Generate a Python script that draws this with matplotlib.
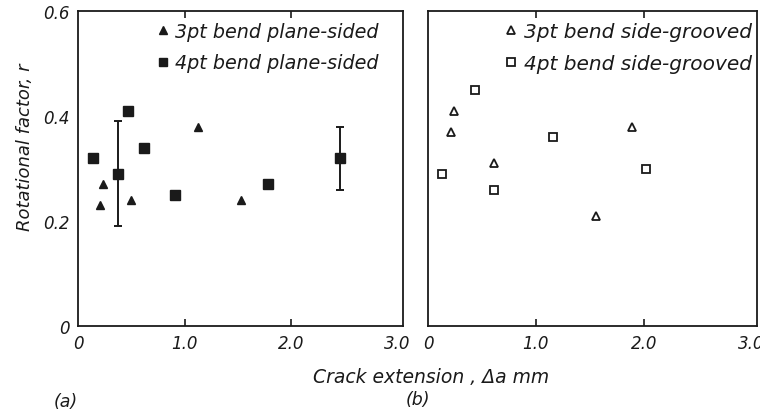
import numpy as np
import matplotlib.pyplot as plt

# Data
# (a) plane-sided specimens
pl3_x = [0.21, 0.23, 0.50, 1.13, 1.53]
pl3_r = [0.23, 0.27, 0.24, 0.38, 0.24]

pl4_x = [0.14, 0.38, 0.47, 0.62, 0.91, 1.78, 2.46]
pl4_r = [0.32, 0.29, 0.41, 0.34, 0.25, 0.27, 0.32]
# error bars only on two points (lower, upper)
pl4_err_x = [0.38, 2.46]
pl4_err_r = [0.29, 0.32]
pl4_err_lo = [0.19, 0.26]
pl4_err_hi = [0.39, 0.38]

# (b) side-grooved specimens
sg3_x = [0.21, 0.24, 0.61, 1.56, 1.89]
sg3_r = [0.37, 0.41, 0.31, 0.21, 0.38]

sg4_x = [0.13, 0.44, 0.61, 1.16, 2.02]
sg4_r = [0.29, 0.45, 0.26, 0.36, 0.30]

x_ticks = [0, 1.0, 2.0, 3.0]
x_ticklabels = ["0", "1.0", "2.0", "3.0"]
y_ticks = [0, 0.2, 0.4, 0.6]
y_ticklabels = ["0", "0.2", "0.4", "0.6"]

ink = "#1a1a1a"
plt.rcParams["font.family"] = "DejaVu Sans"
plt.rcParams["font.style"] = "italic"

fig = plt.figure(figsize=(7.6, 4.14), dpi=100)
ax1 = fig.add_axes([78 / 760, 1 - 327 / 414, 325 / 760, 315 / 414])
ax2 = fig.add_axes([428 / 760, 1 - 327 / 414, 329 / 760, 315 / 414])

# panel (a)
ax1.plot(pl3_x, pl3_r, "^", color=ink, ms=6, ls="none",
         label="3pt bend plane-sided")
ax1.plot(pl4_x, pl4_r, "s", color=ink, ms=7, ls="none",
         label="4pt bend plane-sided")
lo = np.array(pl4_err_r) - np.array(pl4_err_lo)
hi = np.array(pl4_err_hi) - np.array(pl4_err_r)
ax1.errorbar(pl4_err_x, pl4_err_r, yerr=[lo, hi], fmt="none",
             ecolor=ink, elinewidth=1.4, capsize=3, capthick=1.4)

# panel (b)
ax2.plot(sg3_x, sg3_r, "^", mfc="white", mec=ink, mew=1.3, ms=6, ls="none",
         label="3pt bend side-grooved")
ax2.plot(sg4_x, sg4_r, "s", mfc="white", mec=ink, mew=1.3, ms=6, ls="none",
         label="4pt bend side-grooved")

legend_anchor = {ax1: (0.925, 0.965), ax2: (0.985, 0.965)}
legend_size = {ax1: 13.8, ax2: 14.5}

for ax in (ax1, ax2):
    ax.set_xlim(0, 3.05)
    ax.set_ylim(0, 0.6)
    ax.set_xticks(x_ticks)
    ax.set_xticklabels(x_ticklabels)
    ax.set_yticks(y_ticks)
    ax.tick_params(direction="in", length=5, width=1.2, color=ink,
                   top=True, right=True, labelsize=12, labelcolor=ink, pad=6)
    for s in ax.spines.values():
        s.set_linewidth(1.3)
        s.set_color(ink)
    # hide ticks on the spine ends
    for t in ax.xaxis.get_major_ticks():
        if t.get_loc() in (0, 3.0):
            t.tick1line.set_visible(False)
            t.tick2line.set_visible(False)
    for t in ax.yaxis.get_major_ticks():
        if t.get_loc() in (0, 0.6):
            t.tick1line.set_visible(False)
            t.tick2line.set_visible(False)
    leg = ax.legend(loc="upper right", bbox_to_anchor=legend_anchor[ax],
                    frameon=False, fontsize=legend_size[ax], borderaxespad=0,
                    borderpad=0, handlelength=0.5, handletextpad=0.4,
                    labelspacing=0.65, markerscale=0.85)
    for txt in leg.get_texts():
        txt.set_color(ink)

ax1.set_yticklabels(y_ticklabels)
ax2.set_yticklabels([])
ax1.set_ylabel("Rotational factor, r", fontsize=13, color=ink)
ax1.yaxis.set_label_coords(-0.135, 0.571)

fig.text(431 / 760, 1 - 378 / 414, "Crack extension , Δa mm", ha="center",
         va="center", fontsize=13.5, color=ink)
fig.text(66 / 760, 1 - 402 / 414, "(a)", ha="center", va="center",
         fontsize=12.5, color=ink)
fig.text(418 / 760, 1 - 400 / 414, "(b)", ha="center", va="center",
         fontsize=12.5, color=ink)

fig.savefig("out.png", dpi=100, facecolor="white")
